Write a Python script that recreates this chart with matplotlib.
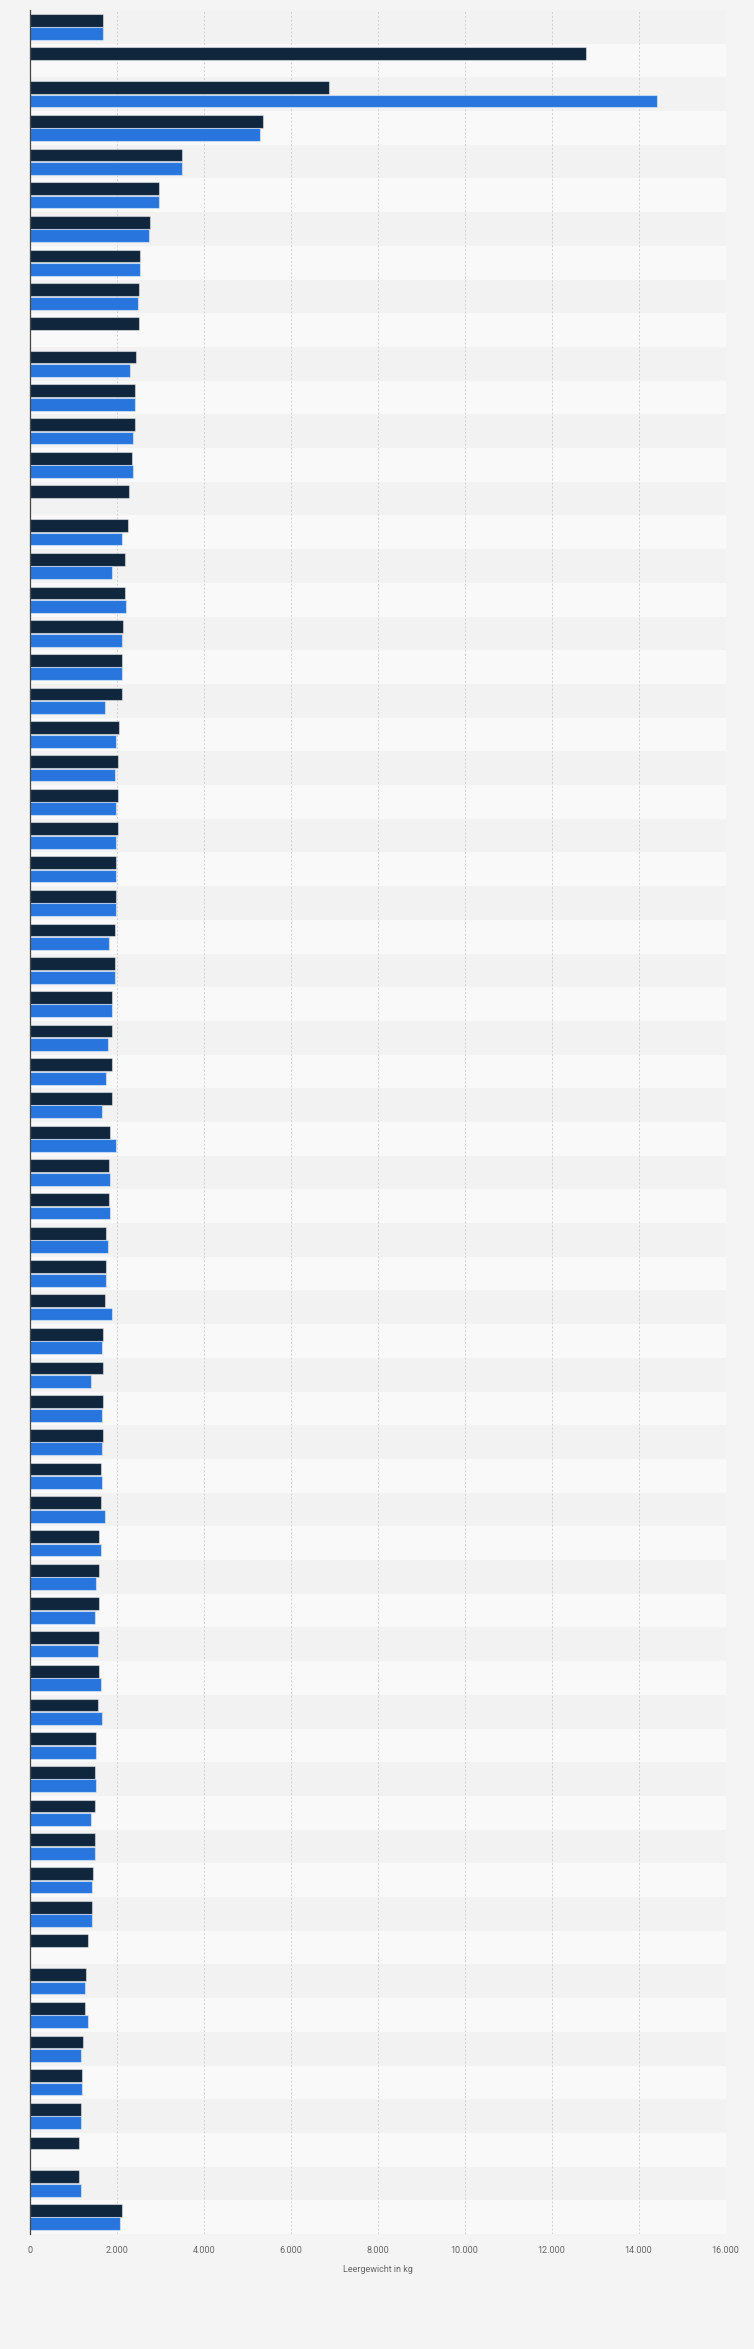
import numpy as np
import matplotlib
matplotlib.use("Agg")
import matplotlib.pyplot as plt

# ── Daten (Leergewicht in kg) ──────────────────────────────────────────────

dark_vals = [1680, 12780, 6880, 5370, 3500, 2980, 2770, 2540, 2520, 2520,
             2450, 2430, 2410, 2340, 2280, 2250, 2200, 2200, 2150, 2130,
             2110, 2060, 2040, 2020, 2020, 1990, 1990, 1970, 1950, 1900,
             1880, 1880, 1880, 1850, 1830, 1830, 1760, 1760, 1740, 1690,
             1690, 1690, 1690, 1630, 1630, 1600, 1600, 1600, 1600, 1600,
             1560, 1530, 1510, 1490, 1490, 1460, 1440, 1330, 1300, 1260,
             1230, 1210, 1170, 1140, 1140, 2130]

blue_vals = [1680, None, 14430, 5300, 3500, 2980, 2750, 2540, 2490, None,
             2310, 2410, 2380, 2380, None, 2130, 1900, 2220, 2110, 2130,
             1740, 1990, 1970, 1990, 1990, 1990, 1990, 1830, 1970, 1880,
             1790, 1760, 1650, 1990, 1850, 1850, 1790, 1760, 1880, 1670,
             1400, 1670, 1670, 1670, 1720, 1630, 1530, 1510, 1580, 1630,
             1670, 1530, 1530, 1400, 1510, 1440, 1440, None, 1260, 1330,
             1170, 1210, 1170, None, 1170, 2080]

x_ticks = [0, 2000, 4000, 6000, 8000, 10000, 12000, 14000, 16000]
x_tick_labels = ["0", "2.000", "4.000", "6.000", "8.000", "10.000",
                 "12.000", "14.000", "16.000"]
x_label = "Leergewicht in kg"

# ── Stil ───────────────────────────────────────────────────────────────────

BG = "#f4f4f4"
DARK = "#10263d"
BLUE = "#2876dd"
plt.rcParams["font.family"] = ["Roboto", "DejaVu Sans"]

rows = np.arange(len(dark_vals))
dark = np.array(dark_vals, dtype=float)
blue = np.array([np.nan if v is None else v for v in blue_vals], dtype=float)

fig = plt.figure(figsize=(7.54, 23.49), dpi=100, facecolor=BG)
ax = fig.add_axes([0.0395, 0.04896, 0.9228, 0.94678])
ax.set_facecolor(BG)

# abwechselnde Zeilenbänder
for r in rows:
    ax.axhspan(r - 0.5, r + 0.5, color="#f2f2f2" if r % 2 == 0 else "#f9f9f9",
               lw=0, zorder=0)

ax.xaxis.grid(True, linestyle=(0, (2, 2)), color="#cfcfcf", linewidth=0.7, zorder=1)
ax.set_axisbelow(True)

h = 0.38
edge = (1, 1, 1, 0.45)
ax.barh(rows - 0.2, dark, height=h, color=DARK, edgecolor=edge, linewidth=0.8, zorder=3)
mask = ~np.isnan(blue)
ax.barh(rows[mask] + 0.2, blue[mask], height=h, color=BLUE, edgecolor=edge,
        linewidth=0.8, zorder=3)

ax.set_xlim(0, 16000)
ax.set_ylim(len(rows) - 0.5, -0.5)
ax.set_yticks([])
ax.set_xticks(x_ticks)
ax.set_xticklabels(x_tick_labels)
ax.tick_params(axis="x", length=0, pad=9, labelsize=6.5, labelcolor="#666666")
ax.set_xlabel(x_label, fontsize=6.5, color="#666666", labelpad=7)

for s in ["top", "right", "bottom"]:
    ax.spines[s].set_visible(False)
ax.spines["left"].set_color("#444444")
ax.spines["left"].set_linewidth(0.9)
ax.spines["left"].set_zorder(4)

fig.savefig("out.png", dpi=100, facecolor=BG)
